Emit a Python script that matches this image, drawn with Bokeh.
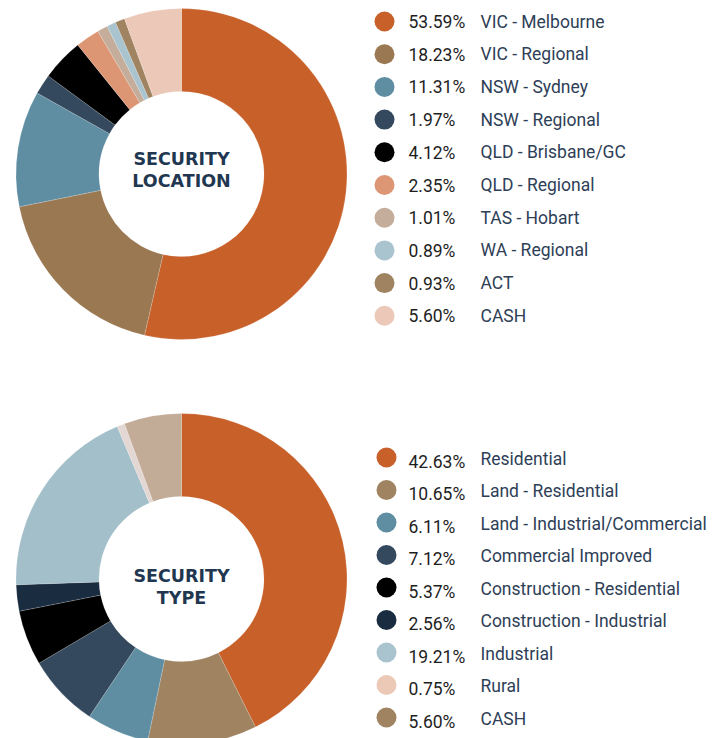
import numpy as np
from bokeh.plotting import figure
from bokeh.models import Range1d, ColumnDataSource
from bokeh.core.properties import value
from bokeh.embed import file_html
from bokeh.resources import INLINE

# ---- data ----
loc_labels = ["VIC - Melbourne", "VIC - Regional", "NSW - Sydney", "NSW - Regional",
              "QLD - Brisbane/GC", "QLD - Regional", "TAS - Hobart", "WA - Regional",
              "ACT", "CASH"]
loc_values = [53.59, 18.23, 11.31, 1.97, 4.12, 2.35, 1.01, 0.89, 0.93, 5.60]

type_labels = ["Residential", "Land - Residential", "Land - Industrial/Commercial",
               "Commercial Improved", "Construction - Residential", "Construction - Industrial",
               "Industrial", "Rural", "CASH"]
type_values = [42.63, 10.65, 6.11, 7.12, 5.37, 2.56, 19.21, 0.75, 5.60]

# ---- styles ----
loc_colors = ["#c8602a", "#9a7852", "#5f8ea3", "#34495e", "#000000",
              "#dd9673", "#c4ae9b", "#a9c3cf", "#a08462", "#ebc8b8"]
type_pie_colors = ["#c8602a", "#a08462", "#5f8ea3", "#34495e", "#000000",
                   "#1a2c40", "#a3bfca", "#e2d7d3", "#c2ab97"]
type_leg_colors = ["#c8602a", "#a08462", "#5f8ea3", "#34495e", "#000000",
                   "#1a2c40", "#a9c3cf", "#ecc8b6", "#a08462"]

W, H = 718, 738
p = figure(width=W, height=H, output_backend="svg", toolbar_location=None,
           x_range=Range1d(0, W), y_range=Range1d(0, H), min_border=0)
p.axis.visible = False
p.grid.visible = False
p.outline_line_color = None
p.background_fill_color = "white"

def Y(py):
    return H - py

def donut(values, colors, cx, cy, r_in, r_out):
    v = np.array(values, dtype=float)
    frac = v / v.sum()
    cum_end = np.cumsum(frac)
    cum_start = cum_end - frac
    start = np.pi / 2 - 2 * np.pi * cum_end
    end = np.pi / 2 - 2 * np.pi * cum_start
    src = ColumnDataSource(dict(start=start, end=end, color=colors))
    p.annular_wedge(x=cx, y=Y(cy), inner_radius=r_in, outer_radius=r_out,
                    start_angle="start", end_angle="end", color="color",
                    line_color="white", line_alpha=0.35, line_width=0.5, source=src)

def legend(labels, values, colors, dot_x, y0, dy, pct_x, lab_x, dyp, dyl):
    n = len(labels)
    ys = [Y(y0 + i * dy) for i in range(n)]
    yp = [Y(y0 + i * dy + dyp) for i in range(n)]
    yl = [Y(y0 + i * dy + dyl) for i in range(n)]
    p.scatter(x=[dot_x] * n, y=ys, size=20, color=colors, line_color=None)
    p.text(x=[pct_x] * n, y=yp, text=["%.2f%%" % v for v in values],
           text_font=value("Roboto"), text_font_size="17.5px", text_color="#1e1e1e",
           text_baseline="middle", text_align="left")
    p.text(x=[lab_x] * n, y=yl, text=labels,
           text_font=value("Roboto"), text_font_size="17.5px", text_color="#2e4057",
           text_baseline="middle", text_align="left")

def center_title(lines, cx, cy):
    n = len(lines)
    ys = [Y(cy + (i - (n - 1) / 2) * 22) for i in range(n)]
    p.text(x=[cx] * n, y=ys, text=lines, text_font=value("DejaVu Sans"),
           text_font_size="17.5px", text_font_style="bold", text_color="#1f3750",
           text_align="center", text_baseline="middle")

donut(loc_values, loc_colors, 181, 173.5, 82.5, 165.5)
center_title(["SECURITY", "LOCATION"], 181, 169)
legend(loc_labels, loc_values, loc_colors, 384, 21, 32.7, 408, 480, 0.5, 0)

donut(type_values, type_pie_colors, 181, 578.5, 82.5, 165.5)
center_title(["SECURITY", "TYPE"], 181, 586)
legend(type_labels, type_values, type_leg_colors, 386, 457, 32.5, 408, 480, 4, 1)

open("out.html", "w").write(file_html(p, INLINE))
